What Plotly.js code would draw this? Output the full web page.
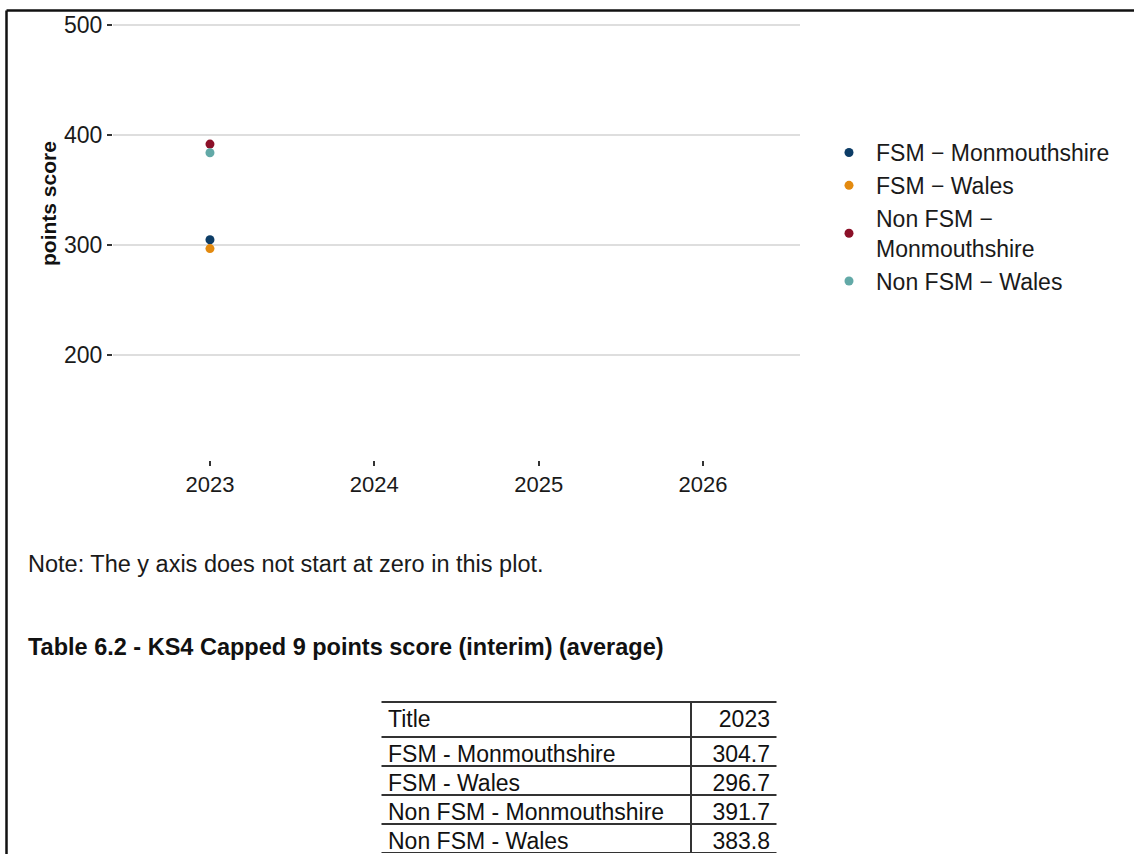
<!DOCTYPE html>
<html>
<head>
<meta charset="utf-8">
<script src="https://cdn.plot.ly/plotly-3.0.1.min.js"></script>
<style>
  html, body { margin: 0; padding: 0; background: #ffffff; }
  #chart { width: 1134px; height: 854px; }
</style>
</head>
<body>
<div id="chart"></div>
<script>
// ---- data ----
const years = [2023];
const seriesNames = ['FSM \u2212 Monmouthshire', 'FSM \u2212 Wales', 'Non FSM \u2212<br>Monmouthshire', 'Non FSM \u2212 Wales'];
const tableLabels = ['FSM - Monmouthshire', 'FSM - Wales', 'Non FSM - Monmouthshire', 'Non FSM - Wales'];
const fsmMonmouthshire = [304.7];
const fsmWales = [296.7];
const nonFsmMonmouthshire = [391.7];
const nonFsmWales = [383.8];
const xTickVals = [2023, 2024, 2025, 2026];
const yTickVals = [200, 300, 400, 500];
const tableHeader = ['Title', '2023'];

// ---- styles ----
const colors = ['#0c3c66', '#e38a0f', '#8b1028', '#62a9a7'];
const FONT = 'Liberation Sans, Arial, Helvetica, sans-serif';
const W = 1134, H = 854;
const X = px => px / W;
const Y = py => 1 - py / H;

const seriesValues = [fsmMonmouthshire, fsmWales, nonFsmMonmouthshire, nonFsmWales];

const traces = seriesValues.map((vals, i) => ({
  type: 'scatter',
  mode: 'markers',
  x: years,
  y: vals,
  name: seriesNames[i],
  marker: { color: colors[i], size: 9 },
  xaxis: 'x', yaxis: 'y',
  hoverinfo: 'x+y+name'
}));

traces.push({
  type: 'table',
  domain: { x: [X(380), X(778)], y: [Y(854), Y(702)] },
  columnwidth: [310, 87],
  header: {
    values: tableHeader,
    align: ['left', 'right'],
    height: 35,
    line: { color: '#333333', width: 1.5 },
    fill: { color: '#ffffff' },
    font: { family: FONT, size: 23, color: '#111111' }
  },
  cells: {
    values: [tableLabels, seriesValues.map(v => v[0].toFixed(1))],
    align: ['left', 'right'],
    height: 29,
    line: { color: '#333333', width: 1.5 },
    fill: { color: '#ffffff' },
    font: { family: FONT, size: 23, color: '#111111' }
  }
});

const layout = {
  width: W, height: H,
  margin: { l: 0, r: 0, t: 0, b: 0 },
  paper_bgcolor: '#ffffff',
  plot_bgcolor: '#ffffff',
  font: { family: FONT, color: '#1a1a1a' },
  showlegend: true,
  legend: {
    x: X(822), y: Y(131), xanchor: 'left', yanchor: 'top',
    font: { family: FONT, size: 23, color: '#1a1a1a' },
    bgcolor: 'rgba(0,0,0,0)', itemsizing: 'trace', itemwidth: 44, tracegroupgap: 0
  },
  xaxis: {
    domain: [X(113), X(800)],
    range: [2022.41, 2026.59],
    tickvals: xTickVals,
    ticktext: xTickVals.map(String),
    showgrid: false, zeroline: false, showline: false,
    ticks: 'outside', ticklen: 5, tickwidth: 1.5, tickcolor: '#333333',
    tickfont: { family: FONT, size: 22, color: '#1a1a1a' },
    anchor: 'y'
  },
  yaxis: {
    domain: [Y(460), Y(14)],
    range: [104.5, 510],
    tickvals: yTickVals,
    showgrid: true, gridcolor: '#dedede', gridwidth: 1.5,
    zeroline: false, showline: false,
    ticks: 'outside', ticklen: 5, tickwidth: 1.5, tickcolor: '#333333',
    tickfont: { family: FONT, size: 23, color: '#1a1a1a' },
    anchor: 'x'
  },
  annotations: [
    { text: '<b>points score</b>', textangle: -90, xref: 'paper', yref: 'paper',
      x: X(48), y: Y(204), xanchor: 'center', yanchor: 'middle', showarrow: false,
      font: { family: FONT, size: 21, color: '#111111' } },
    { text: 'Note: The y axis does not start at zero in this plot.', xref: 'paper', yref: 'paper',
      x: X(26), y: Y(564), xanchor: 'left', yanchor: 'middle', showarrow: false,
      font: { family: FONT, size: 23.5, color: '#1a1a1a' } },
    { text: '<b>Table 6.2 - KS4 Capped 9 points score (interim) (average)</b>', xref: 'paper', yref: 'paper',
      x: X(26), y: Y(647), xanchor: 'left', yanchor: 'middle', showarrow: false,
      font: { family: FONT, size: 23.5, color: '#111111' } }
  ],
  shapes: [
    // page frame (top and left)
    { type: 'line', xref: 'paper', yref: 'paper', x0: X(6.5), x1: 1, y0: Y(10.5), y1: Y(10.5),
      line: { color: '#111111', width: 2.5 }, layer: 'above' },
    { type: 'line', xref: 'paper', yref: 'paper', x0: X(6.5), x1: X(6.5), y0: Y(10.5), y1: 0,
      line: { color: '#111111', width: 2.5 }, layer: 'above' },
    // hide the outer vertical borders of the table
    { type: 'line', xref: 'paper', yref: 'paper', x0: X(380), x1: X(380), y0: Y(854), y1: Y(701),
      line: { color: '#ffffff', width: 3 }, layer: 'above' },
    { type: 'line', xref: 'paper', yref: 'paper', x0: X(778), x1: X(778), y0: Y(854), y1: Y(701),
      line: { color: '#ffffff', width: 3 }, layer: 'above' }
  ]
};

Plotly.newPlot('chart', traces, layout, { displayModeBar: false });
</script>
</body>
</html>
